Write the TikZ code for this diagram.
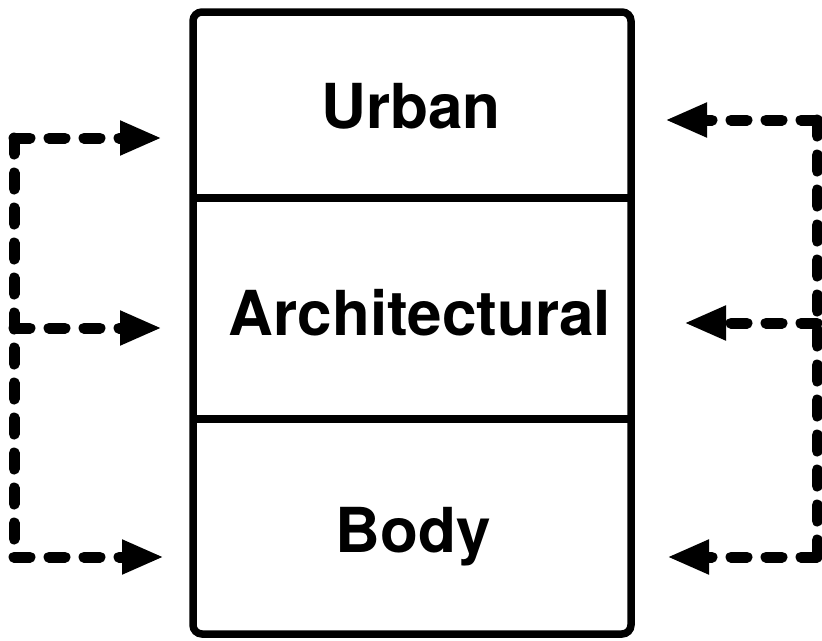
\documentclass[tikz,border=0pt]{standalone}
\usepackage{fontspec}
\setmainfont{TeX Gyre Heros}
\usetikzlibrary{arrows.meta}
\tikzset{
  layer/.style={draw, line width=7.5pt, rounded corners=9pt, inner sep=0pt, minimum width=438pt, minimum height=622pt},
  divider/.style={line width=7.5pt},
  label/.style={font=\fontsize{62}{62}\selectfont\bfseries, anchor=base, inner sep=0pt},
  flow/.style={line width=11pt, line cap=round, dash pattern=on 16pt off 19pt},
  flowarrow/.style={flow, -{Triangle[length=42pt,width=32pt]}}
}
\begin{document}
\begin{tikzpicture}[x=1pt,y=-1pt]
\useasboundingbox (0,0) rectangle (822,640);
\node[layer] (box) at (412,323) {};
\coordinate (d1l) at (193,198); \coordinate (d1r) at (631,198);
\coordinate (d2l) at (193,419); \coordinate (d2r) at (631,419);
\draw[divider] (d1l) -- (d1r);
\draw[divider] (d2l) -- (d2r);
\node[label] (urban) at (411,128) {Urban};
\node[label] (arch) at (420,335) {Architectural};
\node[label] (body) at (413,552) {Body};
% left feedback
\coordinate (lt) at (14,138);
\coordinate (lm) at (14,328);
\coordinate (lb) at (14,557);
\coordinate (ut) at (162,138);
\coordinate (at) at (162,328);
\coordinate (bt) at (164,557);
\draw[flow] (lt) -- (lb);
\draw[flowarrow] (lt) -- (ut);
\draw[flowarrow] (lm) -- (at);
\draw[flowarrow] (lb) -- (bt);
% right feedback
\coordinate (rt) at (817,120);
\coordinate (rm) at (817,323);
\coordinate (rb) at (817,557);
\coordinate (ur) at (665,120);
\coordinate (ar) at (684,323);
\coordinate (br) at (667,557);
\draw[flow] (rt) -- (rb);
\draw[flowarrow] (rt) -- (ur);
\draw[flowarrow] (rm) -- (ar);
\draw[flowarrow] (rb) -- (br);
\end{tikzpicture}
\end{document}
